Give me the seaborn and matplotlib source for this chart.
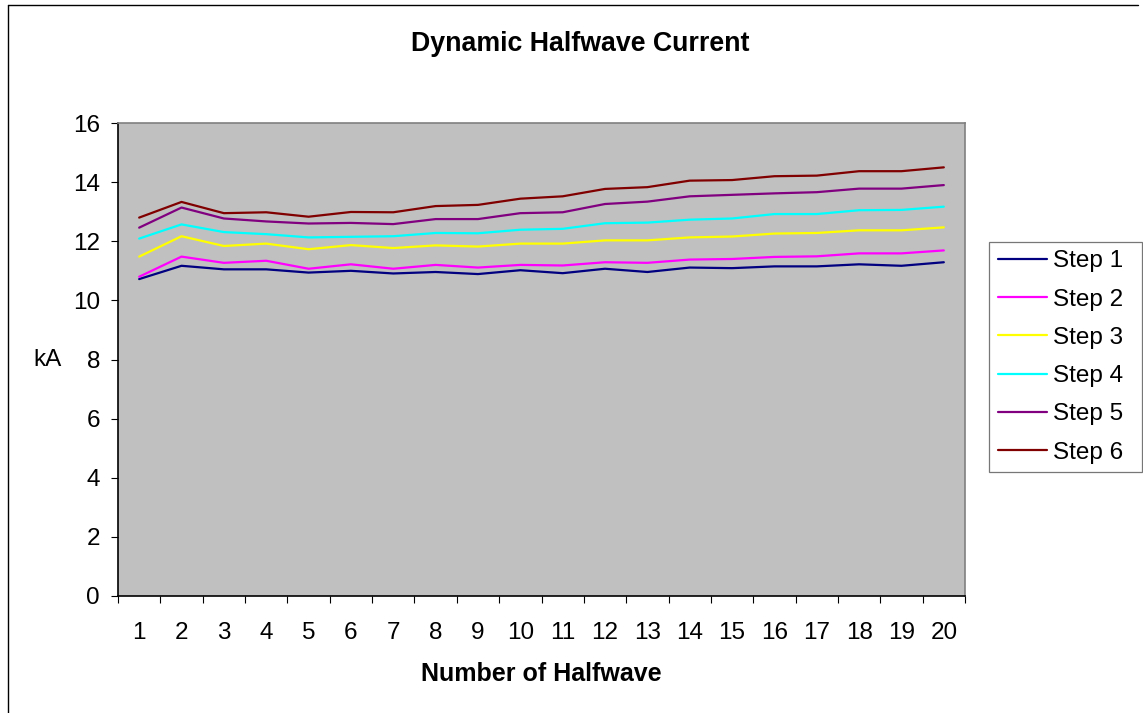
import numpy as np
import pandas as pd
import seaborn as sns
from matplotlib import pyplot as plt
from matplotlib.lines import Line2D

# valeurs
halfwave = list(range(1, 21))
step_1 = [10.72, 11.17, 11.05, 11.05, 10.94, 11.00, 10.91, 10.96, 10.89, 11.02,
          10.92, 11.07, 10.96, 11.11, 11.09, 11.15, 11.15, 11.22, 11.17, 11.29]
step_2 = [10.80, 11.48, 11.27, 11.34, 11.07, 11.22, 11.07, 11.20, 11.11, 11.20,
          11.18, 11.29, 11.27, 11.38, 11.40, 11.47, 11.49, 11.59, 11.59, 11.69]
step_3 = [11.48, 12.17, 11.84, 11.92, 11.73, 11.87, 11.77, 11.86, 11.82, 11.92,
          11.92, 12.03, 12.03, 12.13, 12.16, 12.26, 12.28, 12.37, 12.37, 12.47]
step_4 = [12.09, 12.57, 12.31, 12.24, 12.13, 12.15, 12.17, 12.28, 12.27, 12.39,
          12.42, 12.61, 12.63, 12.73, 12.77, 12.92, 12.92, 13.05, 13.06, 13.17]
step_5 = [12.46, 13.14, 12.77, 12.67, 12.60, 12.62, 12.58, 12.75, 12.75, 12.95,
          12.98, 13.26, 13.34, 13.52, 13.57, 13.62, 13.66, 13.78, 13.78, 13.90]
step_6 = [12.80, 13.33, 12.95, 12.98, 12.83, 12.99, 12.98, 13.19, 13.23, 13.44,
          13.52, 13.77, 13.83, 14.05, 14.07, 14.20, 14.22, 14.37, 14.37, 14.50]
step_names = ["Step 1", "Step 2", "Step 3", "Step 4", "Step 5", "Step 6"]
colors = ["#000080", "#FF00FF", "#FFFF00", "#00FFFF", "#800080", "#800000"]

series = [step_1, step_2, step_3, step_4, step_5, step_6]
df = pd.concat([pd.DataFrame({"halfwave": halfwave, "kA": s, "step": name})
                for name, s in zip(step_names, series)], ignore_index=True)

sns.set_style("white")
plt.rcParams['font.family'] = ['Liberation Sans', 'DejaVu Sans']
plt.rcParams['text.color'] = 'black'
plt.rcParams['axes.labelcolor'] = 'black'
plt.rcParams['xtick.color'] = 'black'
plt.rcParams['ytick.color'] = 'black'

fig = plt.figure(figsize=(11.43, 7.13), dpi=100)
ax = fig.add_axes([118 / 1143, 1 - 596 / 713, 847 / 1143, 473 / 713])
ax.set_facecolor("#C0C0C0")

sns.lineplot(data=df, x="halfwave", y="kA", hue="step", palette=colors,
             linewidth=1.6, ax=ax)

ax.set_xlim(0.5, 20.5)
ax.set_ylim(0, 16)
ax.set_xticks(halfwave)
ax.set_xticklabels([str(h) for h in halfwave], fontsize=17.5)
ax.set_xticks(np.arange(0.5, 21, 1), minor=True)
ax.tick_params(axis="x", which="major", bottom=False, length=0, pad=18.5)
ax.tick_params(axis="x", which="minor", bottom=True, length=5, direction="out", color="black", width=0.8)
ax.set_yticks(range(0, 17, 2))
ax.tick_params(axis="y", left=True, length=5, direction="out", color="black", width=0.8, labelsize=17.5, pad=8)
for sp in ax.spines.values():
    sp.set_color("#808080")
    sp.set_linewidth(1.2)
ax.spines["left"].set_color("black")
ax.spines["bottom"].set_color("black")

ax.set_xlabel("Number of Halfwave", fontsize=18, fontweight="bold", labelpad=13.5)
ax.set_ylabel("kA", fontsize=17.5, rotation=0, va="center")
ax.yaxis.set_label_coords(-0.083, 0.5)
fig.text(580 / 1143, 1 - 44 / 713, "Dynamic Halfwave Current", fontsize=19.3,
         fontweight="bold", ha="center", va="center")

leg = ax.legend(loc="center left", bbox_to_anchor=(989 / 1143, 1 - 357 / 713, 153 / 1143, 0),
                bbox_transform=fig.transFigure, mode="expand", fontsize=17.5, frameon=True,
                fancybox=False, borderpad=0.35, labelspacing=0.67,
                handlelength=2.05, handletextpad=0.22, borderaxespad=0)
leg.get_frame().set_edgecolor("#555555")
leg.get_frame().set_linewidth(0.9)

# cadre exterieur (gauche et haut)
fig.add_artist(Line2D([8 / 1143, 8 / 1143], [0, 1 - 5 / 713], color="black", lw=1, transform=fig.transFigure))
fig.add_artist(Line2D([8 / 1143, 1138 / 1143], [1 - 5 / 713, 1 - 5 / 713], color="black", lw=1, transform=fig.transFigure))

fig.savefig("out.png", dpi=100)
